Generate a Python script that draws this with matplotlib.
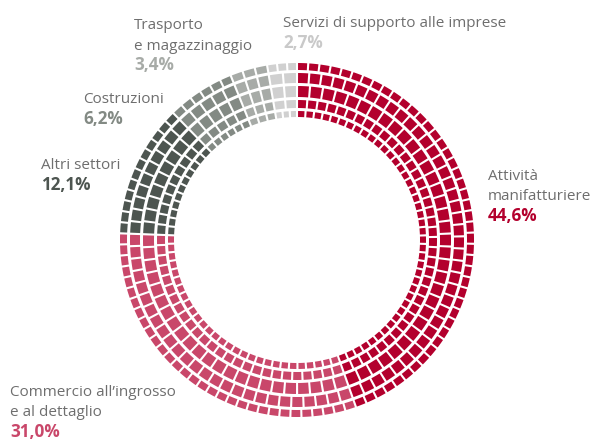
import numpy as np
import matplotlib
matplotlib.use("Agg")
import matplotlib.pyplot as plt
from matplotlib.patches import Wedge

# sector shares (percent), clockwise from 12 o'clock
sectors = ["Attività\nmanifatturiere",
           "Commercio all\u2019ingrosso\ne al dettaglio",
           "Altri settori",
           "Costruzioni",
           "Trasporto\ne magazzinaggio",
           "Servizi di supporto alle imprese"]
shares = [44.6, 31.0, 12.1, 6.2, 3.4, 2.7]
pct_labels = ["44,6%", "31,0%", "12,1%", "6,2%", "3,4%", "2,7%"]

colors = ["#B3002D", "#C9476A", "#4D5550", "#838A84", "#A7ABA7", "#D0D0D0"]
pct_colors = ["#B3002D", "#C9476A", "#4D5550", "#838A84", "#A7ABA7", "#C9C9C9"]
name_color = "#6E6E6E"

# label anchor (left x, baseline of first line) in pixels
label_pos = [(488, 180), (10, 396), (41, 169), (83, 103), (134, 29), (283, 27)]
line_h = 20.5

# concentric dashed rings: outer radius, width, dash period (px)
ring_r = [177, 167, 154, 140, 129]
ring_w = [7, 10, 11, 8, 6]
ring_period = [11, 12, 12.5, 10, 8.5]
gap_px = 2.1

cx, cy = 297, 240

fig = plt.figure(figsize=(5.92, 4.41), dpi=100)
ax = fig.add_axes([0, 0, 1, 1])
ax.set_xlim(0, 592)
ax.set_ylim(441, 0)
ax.axis("off")

bounds = np.concatenate([[0], np.cumsum(shares)]) / 100.0 * 360.0

for r, w, period in zip(ring_r, ring_w, ring_period):
    rm = r - w / 2.0
    gap_deg = np.degrees(gap_px / rm)
    per_deg = np.degrees(period / rm)
    for k in range(len(shares)):
        a0, a1 = bounds[k], bounds[k + 1]
        n = max(1, int(round((a1 - a0) / per_deg)))
        step = (a1 - a0) / n
        for j in range(n):
            t1 = -90 + a0 + j * step + gap_deg / 2
            t2 = -90 + a0 + (j + 1) * step - gap_deg / 2
            ax.add_patch(Wedge((cx, cy), r, t1, t2, width=w,
                               facecolor=colors[k], edgecolor="none"))

font = "Open Sans"
for k in range(len(sectors)):
    x, y = label_pos[k]
    lines = sectors[k].split("\n")
    for i, ln in enumerate(lines):
        ax.text(x, y + i * line_h, ln, fontsize=11, family=font,
                color=name_color, va="baseline", ha="left")
    ax.text(x, y + len(lines) * line_h, pct_labels[k], fontsize=12.3,
            family=font, fontweight="bold", color=pct_colors[k],
            va="baseline", ha="left")

fig.savefig("out.png", dpi=100)
